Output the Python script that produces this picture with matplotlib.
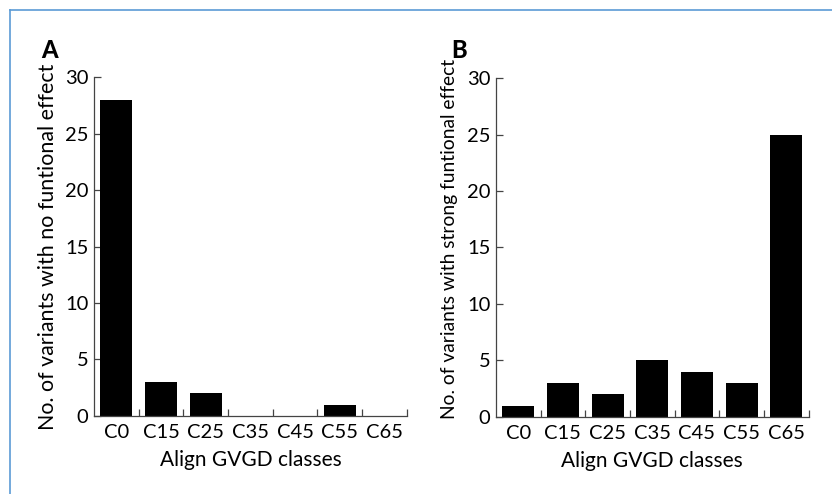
import matplotlib
matplotlib.use("Agg")
import matplotlib.pyplot as plt
from matplotlib.lines import Line2D
import numpy as np

plt.rcParams['font.family'] = ['Lato', 'DejaVu Sans']

categories = ["C0", "C15", "C25", "C35", "C45", "C55", "C65"]
no_effect = [28, 3, 2, 0, 0, 1, 0]
strong_effect = [1, 3, 2, 5, 4, 3, 25]
yticks = [0, 5, 10, 15, 20, 25, 30]

fig = plt.figure(figsize=(8.32, 4.94), dpi=100)

def panel(rect, values, ylabel, letter, letter_xy, label_x, label_y, label_size):
    ax = fig.add_axes(rect)
    x = np.arange(len(categories))
    ax.bar(x, values, width=0.72, color='black', zorder=2)
    ax.set_xlim(-0.5, len(categories) - 0.5)
    ax.set_ylim(0, 30)
    ax.set_yticks(yticks)
    ax.set_xticks(x)
    ax.set_xticklabels(categories)
    ax.set_xticks(np.arange(len(categories)) + 0.5, minor=True)
    ax.tick_params(axis='x', which='major', length=0, labelsize=14.5, pad=6)
    ax.tick_params(axis='x', which='minor', direction='in', length=5, width=0.9, color='#444444')
    ax.tick_params(axis='y', direction='in', length=5, width=0.9, color='#444444', labelsize=14.5, pad=4)
    for s in ['top', 'right']:
        ax.spines[s].set_visible(False)
    for s in ['left', 'bottom']:
        ax.spines[s].set_color('#444444')
        ax.spines[s].set_linewidth(0.9)
    ax.set_ylabel(ylabel, fontsize=label_size)
    ax.yaxis.set_label_coords(label_x, label_y)
    ax.set_xlabel("Align GVGD classes", fontsize=15, labelpad=6)
    fig.text(letter_xy[0], letter_xy[1], letter, fontsize=17, fontweight='black', ha='left', va='baseline')
    return ax

panel([0.113, 0.158, 0.376, 0.686], no_effect,
      "No. of variants with no funtional effect", "A", (0.049, 0.882), -0.115, 0.50, 15.4)
panel([0.596, 0.156, 0.376, 0.686], strong_effect,
      "No. of variants with strong funtional effect", "B", (0.542, 0.882), -0.121, 0.525, 13.9)

fig.add_artist(Line2D([0.012, 1.0], [0.980, 0.980], transform=fig.transFigure, color='#5b9bd5', lw=1.2))
fig.add_artist(Line2D([0.012, 0.012], [0.0, 0.980], transform=fig.transFigure, color='#5b9bd5', lw=1.2))

fig.savefig("out.png", dpi=100)
